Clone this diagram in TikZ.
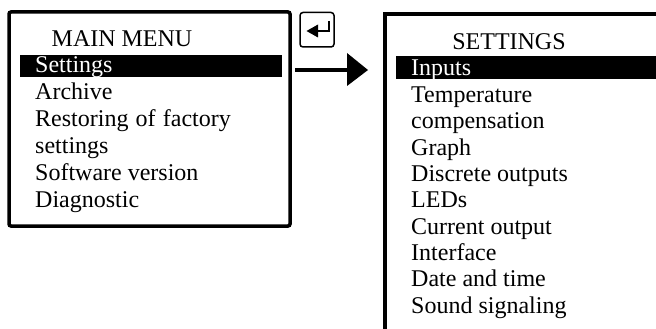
\documentclass[tikz,border=0pt]{standalone}
\usepackage{fontspec}
\setmainfont{Liberation Serif}
\begin{document}
\begin{tikzpicture}[x=1pt,y=-1pt,
  item/.style={anchor=base west,inner sep=0pt,font=\fontsize{24}{26}\selectfont},
  title/.style={anchor=base,inner sep=0pt,font=\fontsize{24}{26}\selectfont},
  sel/.style={item,text=white},
  frame/.style={line width=3.5pt,rounded corners=2pt}]
\useasboundingbox (0,0) rectangle (656,329);
% left box
\draw[frame] (9,12) rectangle (290,226);
\fill (20,55) rectangle (282,77);
\node[title] (mm) at (122,47) {MAIN MENU};
\node[sel] (l1) at (35,73) {Settings};
\node[item] (l2) at (35,99.8) {Archive};
\node[item] (l3) at (35,126.6) {Restoring\hspace{0.3em}of\hspace{0.3em}factory};
\node[item] (l4) at (35,153.4) {settings};
\node[item] (l5) at (35,180.2) {Software version};
\node[item] (l6) at (35,207) {Diagnostic};
% right box
\draw[line width=3.2pt] (660,14) -- (385,14) -- (385,333);
\fill (396,56) rectangle (656,79);
\node[title] (st) at (509,50) {SETTINGS};
\node[sel] (r1) at (411,76) {Inputs};
\node[item] (r2) at (411,102.3) {Temperature};
\node[item] (r3) at (411,128.7) {compensation};
\node[item] (r4) at (411,155) {Graph};
\node[item] (r5) at (411,181.3) {Discrete outputs};
\node[item] (r6) at (411,207.7) {LEDs};
\node[item] (r7) at (411,234) {Current output};
\node[item] (r8) at (411,260.3) {Interface};
\node[item] (r9) at (411,286.7) {Date and time};
\node[item] (r10) at (411,313) {Sound signaling};
% enter key
\draw[line width=1.5pt,rounded corners=3pt] (300,12.5) rectangle (334,47);
\draw[line width=2pt] (328.5,21) -- (328.5,31) -- (316,31);
\fill (306.5,31) -- (318,24.5) -- (318,37.5) -- cycle;
% big arrow
\coordinate (a0) at (295,70);
\coordinate (a1) at (348,70);
\draw[line width=4pt] (a0) -- (a1);
\fill (347,53) -- (368,70) -- (347,86) -- cycle;
\end{tikzpicture}
\end{document}
